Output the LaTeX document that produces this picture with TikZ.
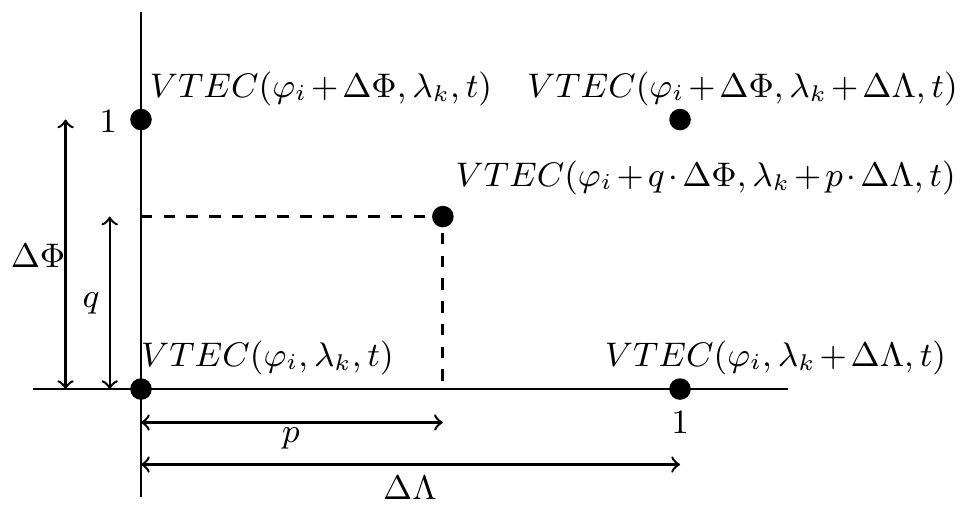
\documentclass[tikz,border=0pt]{standalone}
\usetikzlibrary{calc}
\newcommand\mylblfont{\fontsize{9}{11}\selectfont\medmuskip=2mu plus 2mu minus 2mu\relax}
\begin{document}
\begin{tikzpicture}[
  dot/.style={circle,fill=black,inner sep=0pt,minimum size=0.2cm},
  axis/.style={line width=0.75pt},
  dim/.style={line width=0.65pt,<->},
  guide/.style={line width=0.75pt,dashed},
  lbl/.style={inner sep=0pt,anchor=base,font=\mylblfont}
]
\useasboundingbox (-1.308,-1.132) rectangle (7.764,3.609);
% axes
\coordinate (yb) at (0,-1.0);
\coordinate (yt) at (0,3.5);
\coordinate (xl) at (-1.0,0);
\coordinate (xr) at (6.0,0);
\draw[axis] (yb) -- (yt);
\draw[axis] (xl) -- (xr);
% points
\node[dot] (O) at (0,0) {};
\node[dot] (A) at (5,0) {};
\node[dot] (B) at (0,2.5) {};
\node[dot] (C) at (5,2.5) {};
\node[dot] (P) at (2.8,1.6) {};
% dashed guides
\coordinate (Py) at (0,1.6);
\coordinate (Px) at (2.8,0);
\draw[guide] (Py) -- (P.center) -- (Px);
% dimension arrows
\coordinate (dF0) at (-0.7,0);
\coordinate (dF1) at (-0.7,2.5);
\coordinate (dq0) at (-0.29,0);
\coordinate (dq1) at (-0.29,1.6);
\coordinate (dp0) at (0,-0.31);
\coordinate (dp1) at (2.8,-0.31);
\coordinate (dL0) at (0,-0.7);
\coordinate (dL1) at (5,-0.7);
\draw[dim] (dF0) -- (dF1);
\draw[dim] (dq0) -- (dq1);
\draw[dim] (dp0) -- (dp1);
\draw[dim] (dL0) -- (dL1);
% labels
\node[lbl] (lB) at (1.670,2.709) {$VTEC(\varphi_i+\Delta\Phi,\lambda_k,t)$};
\node[lbl] (lC) at (5.579,2.709) {$VTEC(\varphi_i+\Delta\Phi,\lambda_k+\Delta\Lambda,t)$};
\node[lbl] (lP) at (5.238,1.883) {$VTEC(\varphi_i+q\cdot\Delta\Phi,\lambda_k+p\cdot\Delta\Lambda,t)$};
\node[lbl] (lO) at (1.173,0.213) {$VTEC(\varphi_i,\lambda_k,t)$};
\node[lbl] (lA) at (5.886,0.213) {$VTEC(\varphi_i,\lambda_k+\Delta\Lambda,t)$};
\node[lbl] (one1) at (-0.306,2.384) {$1$};
\node[lbl] (one2) at (5.0,-0.408) {$1$};
\node[lbl] (lp) at (1.391,-0.492) {$p$};
\node[lbl] (lL) at (2.495,-1.020) {$\Delta\Lambda$};
\node[lbl] (lF) at (-0.955,1.132) {$\Delta\Phi$};
\node[lbl] (lq) at (-0.464,0.761) {$q$};
\end{tikzpicture}
\end{document}
